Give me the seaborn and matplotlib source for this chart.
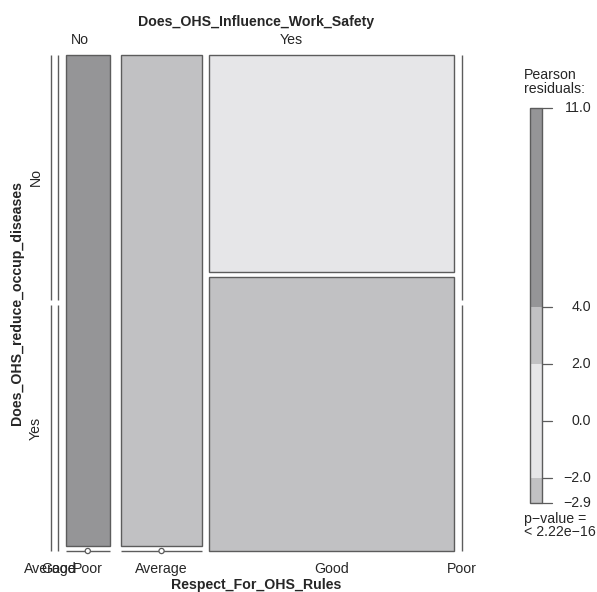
import numpy as np
import matplotlib
matplotlib.use("Agg")
import matplotlib.pyplot as plt
import seaborn as sns
from matplotlib.patches import Rectangle, Circle

# ---------------- data ----------------
influence_levels = ["No", "Yes"]                 # Does_OHS_Influence_Work_Safety
respect_levels = ["Average", "Good", "Poor"]     # Respect_For_OHS_Rules
disease_levels = ["No", "Yes"]                   # Does_OHS_reduce_occup_diseases
# counts per respect level (Average, Good, Poor)
no_influence_disease_no = [0, 0, 11]
no_influence_disease_yes = [0, 0, 0]
yes_influence_disease_no = [20, 27, 0]
yes_influence_disease_yes = [0, 34, 0]
legend_breaks = [-2.9, -2.0, 2.0, 4.0, 11.0]
legend_ticks = [-2.9, -2.0, 0.0, 2.0, 4.0, 11.0]
p_value_text = "< 2.22e\u221216"

sns.set_theme(style="white")
plt.rcParams["font.family"] = ["Liberation Sans", "DejaVu Sans"]

table = np.array([
    [no_influence_disease_no, no_influence_disease_yes],
    [yes_influence_disease_no, yes_influence_disease_yes],
], dtype=float)            # [influence, disease, respect]
table = table.transpose(0, 2, 1)  # -> [influence, respect, disease]
N = table.sum()
pa = table.sum(axis=(1, 2)) / N
pb = table.sum(axis=(0, 2)) / N
pc = table.sum(axis=(0, 1)) / N
expected = N * pa[:, None, None] * pb[None, :, None] * pc[None, None, :]
resid = (table - expected) / np.sqrt(expected)

DARK, MID, LIGHT = "#959597", "#c1c1c3", "#e6e6e8"
EDGE = "#5c5c5c"


def shade(r):
    a = abs(r)
    if a > 4:
        return DARK
    if a > 2:
        return MID
    return LIGHT


fig = plt.figure(figsize=(5.97, 5.92), dpi=100)
ax = fig.add_axes([0, 0, 1, 1])
ax.set_xlim(0, 597)
ax.set_ylim(592, 0)
ax.axis("off")

FS = 10.2
# mosaic frame
X0, X1 = 50.7, 461.7
Y0, Y1 = 54.5, 551.0
GAP_OUT, GAP_IN, GAP_Y = 11.5, 7.5, 5.3
nA, nB, nC = table.shape
avail_w = (X1 - X0) - GAP_OUT * (nA - 1) - GAP_IN * nA * (nB - 1)
avail_h = (Y1 - Y0) - GAP_Y * (nC - 1)

col_info = []
x = X0
group_spans = []
for i in range(nA):
    gstart = x
    for j in range(nB):
        tot = table[i, j].sum()
        w = tot / N * avail_w
        col_info.append((i, j, x, w))
        x += w
        if j < nB - 1:
            x += GAP_IN
    group_spans.append((gstart, x))
    if i < nA - 1:
        x += GAP_OUT

first_col_centers = None
for (i, j, cx, w) in col_info:
    tot = table[i, j].sum()
    y = Y0
    centers = []
    for k in range(nC):
        if tot > 0:
            h = table[i, j, k] / tot * avail_h
        else:
            h = avail_h / nC
        if w == 0:
            ax.plot([cx, cx], [y, y + h], color=EDGE, lw=1.0, solid_capstyle="butt")
        elif h == 0:
            ax.plot([cx, cx + w], [y, y], color=EDGE, lw=1.0, solid_capstyle="butt")
            ax.add_patch(Circle((cx + w / 2, y), 2.6, facecolor="white",
                                edgecolor=EDGE, lw=0.9, zorder=3))
        else:
            ax.add_patch(Rectangle((cx, y), w, h, facecolor=shade(resid[i, j, k]),
                                   edgecolor=EDGE, lw=1.0))
        centers.append(y + h / 2)
        y += h + GAP_Y
    if first_col_centers is None:
        first_col_centers = centers
    ax.text(cx + w / 2, 569, respect_levels[j], ha="center", va="center", fontsize=FS)

xmid = (X0 + X1) / 2
ax.text(xmid, 22, "Does_OHS_Influence_Work_Safety", ha="center", va="center",
        fontsize=FS, fontweight="bold")
for (gs, ge), lab in zip(group_spans, influence_levels):
    ax.text((gs + ge) / 2, 40, lab, ha="center", va="center", fontsize=FS)
ax.text(xmid, 585, "Respect_For_OHS_Rules", ha="center", va="center",
        fontsize=FS, fontweight="bold")
for yc, lab in zip(first_col_centers, disease_levels):
    ax.text(36, yc, lab, ha="center", va="center", rotation=90, fontsize=FS)
ax.text(17, (Y0 + Y1) / 2, "Does_OHS_reduce_occup_diseases", ha="center",
        va="center", rotation=90, fontsize=FS, fontweight="bold")

# ---------------- legend ----------------
LX0, LX1 = 530.0, 542.3
vmin, vmax = legend_breaks[0], legend_breaks[-1]
Y_AT_ZERO, PX_PER_UNIT = 420.7, 28.45


def vy(v):
    return Y_AT_ZERO - v * PX_PER_UNIT


for lo, hi in zip(legend_breaks[:-1], legend_breaks[1:]):
    mid = (lo + hi) / 2
    ax.add_patch(Rectangle((LX0, vy(hi)), LX1 - LX0, vy(lo) - vy(hi),
                           facecolor=shade(mid), edgecolor="none"))
ax.add_patch(Rectangle((LX0, vy(vmax)), LX1 - LX0, vy(vmin) - vy(vmax),
                       facecolor="none", edgecolor=EDGE, lw=1.0))
for t in legend_ticks:
    ax.plot([LX1, 552], [vy(t), vy(t)], color=EDGE, lw=0.9)
    ax.text(591, vy(t), f"{t:.1f}".replace("-", "\u2212"), ha="right",
            va="center", fontsize=FS)
ax.text(524, 75, "Pearson", ha="left", va="center", fontsize=FS)
ax.text(524, 89, "residuals:", ha="left", va="center", fontsize=FS)
ax.text(524, 519, "p\u2212value =", ha="left", va="center", fontsize=FS)
ax.text(524, 532, p_value_text, ha="left", va="center", fontsize=FS)

fig.savefig("out.png", dpi=100)
